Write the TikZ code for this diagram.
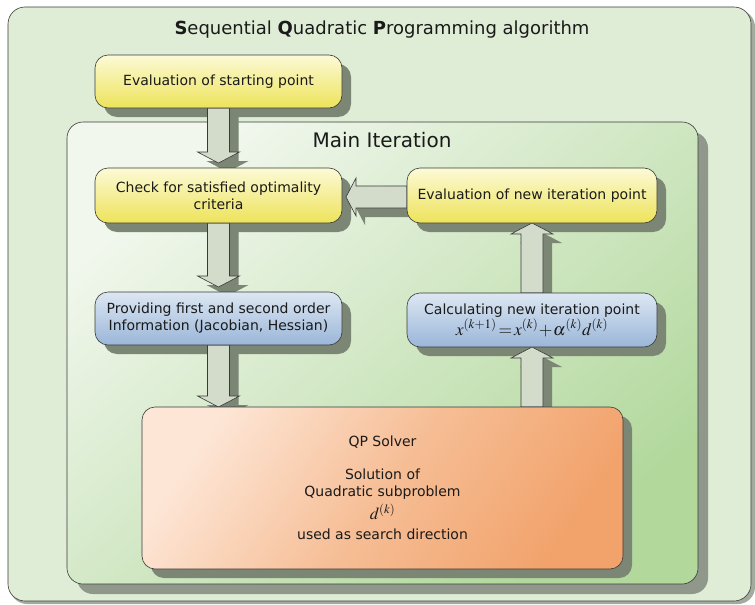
\documentclass[tikz,border=0pt]{standalone}
\usepackage{mathptmx}
\usepackage[no-math]{fontspec}
\setmainfont{DejaVu Sans}
\usetikzlibrary{calc}
\pgfdeclarelayer{bg}
\pgfdeclarelayer{shad}
\pgfdeclarelayer{arr}
\pgfsetlayers{bg,shad,arr,main}
\definecolor{outerc}{HTML}{DFEDD6}
\definecolor{mainlight}{HTML}{F1F7ED}
\definecolor{mainmid}{HTML}{C6E3B6}
\definecolor{maindark}{HTML}{B2D89C}
\definecolor{yellowlight}{HTML}{FCFAD6}
\definecolor{yellowdark}{HTML}{EDE35A}
\definecolor{bluelight}{HTML}{DCE7F2}
\definecolor{bluedark}{HTML}{9BB6D9}
\definecolor{orangelight}{HTML}{FDE6D6}
\definecolor{orangemid}{HTML}{F6BE96}
\definecolor{orangedark}{HTML}{F2A36C}
\definecolor{arrowc}{HTML}{D3DCCA}
\definecolor{shadowc}{HTML}{7B8675}
\definecolor{linec}{HTML}{3A3A3A}
\definecolor{textc}{HTML}{1A1A1A}
\tikzset{
  boxtext/.style={font=\fontsize{14}{17}\selectfont, text=textc},
  procbox/.style={boxtext, draw=linec, line width=0.6pt, rounded corners=13pt,
    inner sep=0pt, outer sep=0pt, align=center, minimum height=55pt},
  yellowbox/.style={procbox, top color=yellowlight, bottom color=yellowdark},
  bluebox/.style={procbox, top color=bluelight, bottom color=bluedark},
  orangebox/.style={procbox, top color=orangelight, bottom color=orangedark, middle color=orangemid, shading angle=55},
  arrowbody/.style={fill=arrowc, draw=linec, line width=0.6pt, line join=miter},
  arrowshadow/.style={fill=shadowc},
}
\newcommand\boxshadow[1]{%
  \begin{pgfonlayer}{shad}
    \fill[shadowc, rounded corners=13pt] ($(#1.south west)+(9,9)$) rectangle ($(#1.north east)+(9,9)$);
  \end{pgfonlayer}}
% vertical block arrow: #1 start, #2 tip, #3 = head direction sign (1 = down, -1 = up)
\newcommand\fatvpath[4]{($(#1)+(#4)+(-11,0)$) -- ($(#2)+(#4)+(-11,-#3*11)$) -- ($(#2)+(#4)+(-21,-#3*11)$) -- ($(#2)+(#4)$) -- ($(#2)+(#4)+(21,-#3*11)$) -- ($(#2)+(#4)+(11,-#3*11)$) -- ($(#1)+(#4)+(11,0)$) -- cycle}
\newcommand\fatv[3]{%
  \begin{pgfonlayer}{shad}
    \fill[arrowshadow] \fatvpath{#1}{#2}{#3}{9,9};
  \end{pgfonlayer}
  \begin{pgfonlayer}{arr}
    \filldraw[arrowbody] \fatvpath{#1}{#2}{#3}{0,0};
  \end{pgfonlayer}}
% horizontal block arrow pointing left: #1 start, #2 tip
\newcommand\fathpath[3]{($(#1)+(#3)+(0,-11)$) -- ($(#2)+(#3)+(10,-11)$) -- ($(#2)+(#3)+(10,-19)$) -- ($(#2)+(#3)$) -- ($(#2)+(#3)+(10,19)$) -- ($(#2)+(#3)+(10,11)$) -- ($(#1)+(#3)+(0,11)$) -- cycle}
\newcommand\fath[2]{%
  \begin{pgfonlayer}{shad}
    \fill[arrowshadow] \fathpath{#1}{#2}{9,9};
  \end{pgfonlayer}
  \begin{pgfonlayer}{arr}
    \filldraw[arrowbody] \fathpath{#1}{#2}{0,0};
  \end{pgfonlayer}}
\begin{document}
\begin{tikzpicture}[x=1pt, y=-1pt]
\useasboundingbox (0,0) rectangle (755,605);
\begin{pgfonlayer}{bg}
  \fill[shadowc!70, rounded corners=17pt] (10,10) rectangle (755,604);
  \node[draw=linec, line width=0.6pt, fill=outerc, rounded corners=17pt, inner sep=0pt, outer sep=0pt,
        minimum width=743pt, minimum height=594pt] (outer) at (379.5,304) {};
  \fill[shadowc!85, rounded corners=16pt] (77,132) rectangle (708,594);
  \node[draw=linec, line width=0.6pt, top color=mainlight, middle color=mainmid, bottom color=maindark, shading angle=40,
        rounded corners=16pt, inner sep=0pt, outer sep=0pt,
        minimum width=631pt, minimum height=462pt] (main) at (382.5,353) {};
\end{pgfonlayer}

\node[font=\fontsize{18}{22}\selectfont, text=textc] (title) at (382,30)
  {\textbf{S}equential \textbf{Q}uadratic \textbf{P}rogramming algorithm};
\node[font=\fontsize{20}{24}\selectfont, text=textc] (mainlabel) at (382,140) {Main Iteration};

\node[yellowbox, minimum width=247pt, minimum height=53pt] (start) at (218.5,81.5) {Evaluation of starting point};
\node[yellowbox, minimum width=247pt] (check) at (218.5,195.5) {Check for satisfied optimality\\criteria};
\node[yellowbox, minimum width=250pt] (evalnew) at (532,195.5) {Evaluation of new iteration point};
\node[bluebox, minimum width=247pt, minimum height=53pt] (provide) at (218.5,318.5) {Providing first and second order\\Information (Jacobian, Hessian)};
\node[bluebox, minimum width=250pt, minimum height=54pt] (calc) at (532,320) {Calculating new iteration point\\[1pt]{\fontsize{17.5}{18}\selectfont$x^{(k+1)}\!=\!x^{(k)}\!+\!\alpha^{(k)}d^{(k)}$\hspace{12pt}}};
\node[orangebox, minimum width=481pt, minimum height=162pt] (qp) at (382.5,488)
  {QP Solver\\[16pt]Solution of\\Quadratic subproblem\\[4pt]{\fontsize{17}{18}\selectfont$d^{(k)}$}\\[3pt]used as search direction};

\foreach \b in {start,check,evalnew,provide,calc,qp} {\boxshadow{\b}}

\coordinate (t1) at ($(check.north)+(0,-5)$);
\coordinate (t2) at ($(provide.north)+(0,-5)$);
\coordinate (t3) at (provide.south |- qp.north);
\coordinate (s4) at (calc.south |- qp.north);
\coordinate (s6) at ($(evalnew.west)+(0,1.5)$);
\coordinate (t6) at ($(check.east)+(4,1.5)$);

\fatv{start.south}{t1}{1}
\fatv{check.south}{t2}{1}
\fatv{provide.south}{t3}{1}
\fatv{s4}{calc.south}{-1}
\fatv{calc.north}{evalnew.south}{-1}
\fath{s6}{t6}
\end{tikzpicture}
\end{document}
